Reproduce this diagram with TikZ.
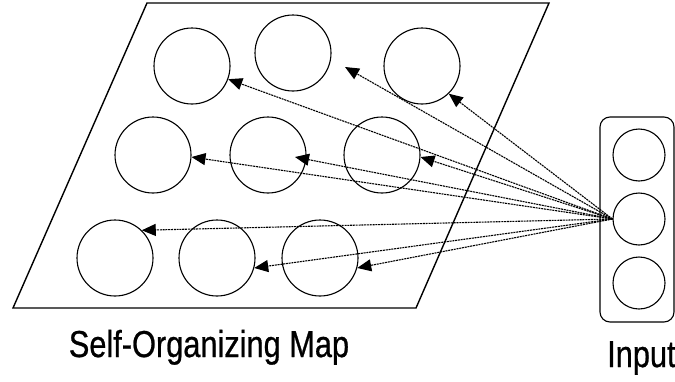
\documentclass[tikz,border=0pt]{standalone}
\usepackage{fontspec}
\setmainfont{Liberation Sans}
\newfontfamily\lblfont[FakeBold=0.8]{Liberation Sans}
\usetikzlibrary{arrows.meta}
\begin{document}
\begin{tikzpicture}[x=1pt,y=-1pt,
  neuron/.style={circle,draw=black,line width=1.1pt,minimum size=76pt,inner sep=0pt},
  inneuron/.style={circle,draw=black,line width=1.1pt,minimum size=52pt,inner sep=0pt},
  link/.style={line width=1.1pt,dash pattern=on 2pt off 0.8pt,-{Triangle[length=14pt,width=12pt]}},
  lbl/.style={font=\lblfont\fontsize{37.5}{42}\selectfont,inner sep=0pt}]
\useasboundingbox (0,0) rectangle (675,381);
% map sheet
\draw[line width=1.4pt] (147,3) -- (549,3) -- (416,308) -- (13,308) -- cycle;
% map neurons
\node[neuron] (c1) at (192,66) {};
\node[neuron] (c2) at (293,53) {};
\node[neuron] (c3) at (422,66) {};
\node[neuron] (c4) at (153,155) {};
\node[neuron] (c5) at (268,155) {};
\node[neuron] (c6) at (382,155) {};
\node[neuron] (c7) at (115,258) {};
\node[neuron] (c8) at (217,258) {};
\node[neuron] (c9) at (320,258) {};
% input
\draw[line width=1.1pt,rounded corners=10pt] (600,117) rectangle (674,322);
\node[inneuron] (it) at (639,155) {};
\node[inneuron] (im) at (639,219) {};
\node[inneuron] (ib) at (639,283) {};
% free arrow ends
\coordinate (t2) at (345,67);
\coordinate (t5) at (295,157);
% connections
\draw[link] (im.west) -- (c1.-20);
\draw[link] (im.west) -- (t2);
\draw[link] (im.west) -- (c3.-46);
\draw[link] (im.west) -- (c4.-3);
\draw[link] (im.west) -- (t5);
\draw[link] (im.west) -- (c6.-3);
\draw[link] (im.west) -- (c7.46);
\draw[link] (im.west) -- (c8.-15);
\draw[link] (im.west) -- (c9.-15);
% labels
\node[lbl,anchor=base] (som) at (209,357) {\scalebox{0.82}[1]{Self-Organizing Map}};
\node[lbl,anchor=base west] (inp) at (607,367) {\scalebox{0.82}[1]{Input}};
\end{tikzpicture}
\end{document}
